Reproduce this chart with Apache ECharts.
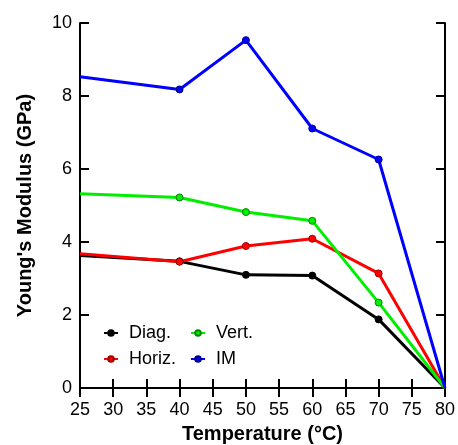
<!DOCTYPE html>
<html><head><meta charset="utf-8">
<script src="https://cdn.jsdelivr.net/npm/echarts@6/dist/echarts.min.js"></script>
<style>html,body{margin:0;padding:0;background:#fff}#c{width:458px;height:445px}</style>
</head><body><div id="c"></div>
<script>
const temps = [25, 40, 50, 60, 70, 80];
const diag  = [3.63, 3.47, 3.10, 3.08, 1.88, 0];
const horiz = [3.68, 3.46, 3.89, 4.09, 3.14, 0];
const vert  = [5.32, 5.22, 4.82, 4.58, 2.34, 0];
const im    = [8.53, 8.18, 9.53, 7.11, 6.26, 0];
const xTicks = [25,30,35,40,45,50,55,60,65,70,75,80];
const yTicks = [0,2,4,6,8,10];

function mk(name, vals, color, border) {
  return {
    name, type: 'line', symbol: 'circle',
    data: temps.map((t,i) => ({
      value: [t, vals[i]],
      symbol: (i === 0 || i === temps.length-1) ? 'none' : 'circle'
    })),
    symbolSize: 7,
    lineStyle: {color, width: 3},
    itemStyle: {color, borderColor: border, borderWidth: 1},
    z: 3
  };
}
const font = 'Liberation Sans, Arial, sans-serif';
const chart = echarts.init(document.getElementById('c'));
const axisCommonX = {type:'value', min: xTicks[0], max: xTicks[xTicks.length-1], interval: 5};
const axisCommonY = {type:'value', min: yTicks[0], max: yTicks[yTicks.length-1], interval: 2};
const legendText = {fontFamily: font, fontSize: 18, color: '#000', lineHeight: 18, padding: [0,0,0,6]};
chart.setOption({
  animation: false,
  backgroundColor: '#fff',
  grid: {left: 80, right: 13, top: 23, bottom: 57, containLabel: false, outerBoundsMode: 'none'},
  xAxis: [
    Object.assign({}, axisCommonX, {
      position: 'bottom',
      name: 'Temperature (°C)', nameLocation: 'middle', nameGap: 36,
      nameTextStyle: {fontFamily: font, fontSize: 20, fontWeight: 'bold', color: '#000'},
      axisLine: {lineStyle: {color: '#000', width: 2}},
      axisTick: {inside: true, length: 9, lineStyle: {color: '#000', width: 2}},
      axisLabel: {fontFamily: font, fontSize: 18, color: '#000', margin: 13},
      splitLine: {show: false}
    }),
    Object.assign({}, axisCommonX, {
      position: 'top',
      axisLine: {lineStyle: {color: '#000', width: 2}},
      axisTick: {inside: true, length: 9, lineStyle: {color: '#000', width: 2}},
      axisLabel: {show: false}, splitLine: {show: false}
    })
  ],
  yAxis: [
    Object.assign({}, axisCommonY, {
      position: 'left',
      name: "Young's Modulus (GPa)", nameLocation: 'middle', nameGap: 45,
      nameTextStyle: {fontFamily: font, fontSize: 20, fontWeight: 'bold', color: '#000'},
      axisLine: {show: true, lineStyle: {color: '#000', width: 2}},
      axisTick: {show: true, inside: true, length: 9, lineStyle: {color: '#000', width: 2}},
      axisLabel: {fontFamily: font, fontSize: 18, color: '#000', margin: 8},
      splitLine: {show: false}
    }),
    Object.assign({}, axisCommonY, {
      position: 'right',
      axisLine: {show: true, lineStyle: {color: '#000', width: 2}},
      axisTick: {show: true, inside: true, length: 9, lineStyle: {color: '#000', width: 2}},
      axisLabel: {show: false}, splitLine: {show: false}
    })
  ],
  legend: [
    {data: ['Diag.', 'Horiz.'], orient: 'vertical', left: 103, top: 324, padding: 0, itemGap: 8,
     itemWidth: 14, itemHeight: 7, textStyle: legendText},
    {data: ['Vert.', 'IM'], orient: 'vertical', left: 190, top: 324, padding: 0, itemGap: 8,
     itemWidth: 14, itemHeight: 7, textStyle: legendText}
  ],
  series: [
    mk('Diag.', diag, '#000000', '#000000'),
    mk('Horiz.', horiz, '#ff0000', '#a00000'),
    mk('Vert.', vert, '#00ee00', '#008800'),
    mk('IM', im, '#0000ff', '#000088')
  ]
});
</script></body></html>
